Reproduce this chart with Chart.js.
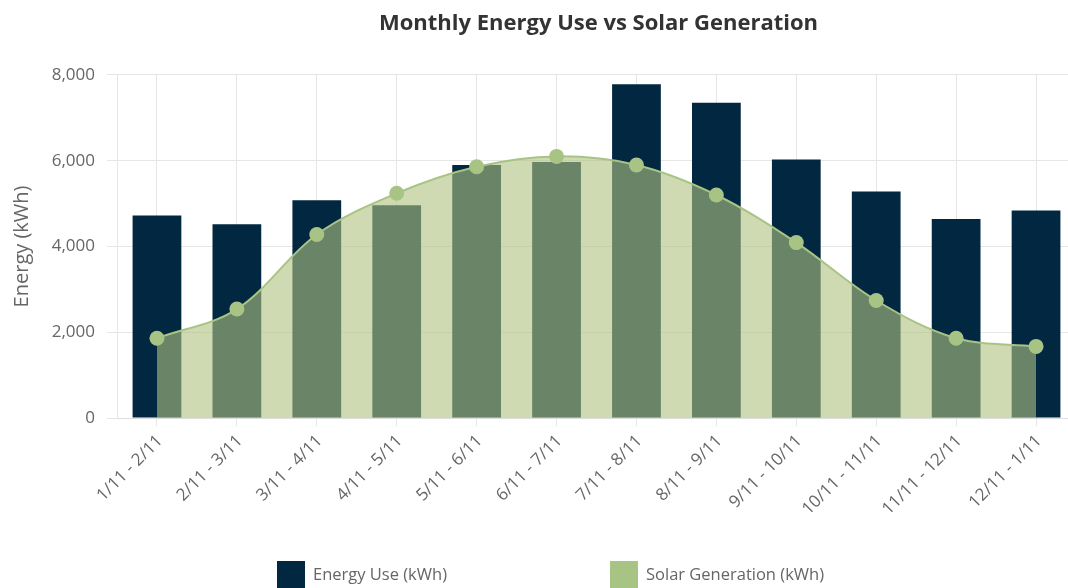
<!DOCTYPE html>
<html><head><meta charset="utf-8">
<script src="https://cdn.jsdelivr.net/npm/chart.js@4.4.0/dist/chart.umd.min.js"></script>
<style>html,body{margin:0;padding:0;overflow:hidden;background:#fff;} canvas{display:block;}</style>
</head><body><canvas id="c" width="1068" height="588" style="width:1068px;height:588px"></canvas>
<script>
const categories = ['1/11 - 2/11','2/11 - 3/11','3/11 - 4/11','4/11 - 5/11','5/11 - 6/11','6/11 - 7/11','7/11 - 8/11','8/11 - 9/11','9/11 - 10/11','10/11 - 11/11','11/11 - 12/11','12/11 - 1/11'];
const energyUse = [4720, 4520, 5080, 4960, 5900, 5970, 7780, 7350, 6030, 5280, 4640, 4840];
const solarGeneration = [1860, 2540, 4280, 5240, 5860, 6100, 5900, 5200, 4090, 2740, 1860, 1670];
const yTickValues = [0, 2000, 4000, 6000, 8000];
const seriesLabels = ['Energy Use (kWh)', 'Solar Generation (kWh)'];

const FONT = "'Open Sans', sans-serif";
const NAVY = '#012840';
const GREEN = '#a8c484';

// The original plot area runs slightly past the right edge of the picture.
const PLOT_RIGHT = 1076;
const extendPlugin = {
  id: 'extendArea',
  afterLayout(chart) {
    const x = chart.scales.x;
    x.right = PLOT_RIGHT; x.width = x.right - x.left;
    x.configure();
    chart.chartArea.right = PLOT_RIGHT;
    chart.chartArea.width = PLOT_RIGHT - chart.chartArea.left;
    const t = chart.titleBlock;
    if (t) { t.left = chart.chartArea.left; t.right = PLOT_RIGHT + 4; t.width = t.right - t.left; }
  }
};

const legendPlugin = {
  id: 'customLegend',
  afterDraw(chart) {
    const ctx = chart.ctx;
    const xs = [277, 610];
    ctx.save();
    ctx.font = '16.5px ' + FONT;
    ctx.textBaseline = 'middle';
    ctx.textAlign = 'left';
    chart.data.datasets.forEach((ds, i) => {
      ctx.fillStyle = ds.legendColor;
      ctx.fillRect(xs[i], 561, 28, 28);
      ctx.fillStyle = '#666666';
      ctx.fillText(ds.label, xs[i] + 36, 575);
    });
    ctx.restore();
  }
};

new Chart(document.getElementById('c'), {
  type: 'bar',
  data: {
    labels: categories,
    datasets: [
      {
        type: 'bar', label: seriesLabels[0], data: energyUse,
        backgroundColor: NAVY, legendColor: NAVY,
        categoryPercentage: 1, barPercentage: 0.61, order: 2
      },
      {
        type: 'line', label: seriesLabels[1], data: solarGeneration,
        borderColor: GREEN, borderWidth: 2, legendColor: GREEN,
        backgroundColor: 'rgba(175,193,128,0.6)', fill: 'origin',
        tension: 0.35, pointRadius: 7.5, pointBackgroundColor: GREEN,
        pointBorderWidth: 0, order: 1, clip: false
      }
    ]
  },
  options: {
    responsive: false, animation: false,
    layout: { padding: 0 },
    plugins: {
      legend: { display: false },
      tooltip: { enabled: false },
      title: {
        display: true, fullSize: false,
        text: 'Monthly Energy Use vs Solar Generation',
        color: '#333333',
        font: { family: FONT, size: 22, weight: 'bold' },
        padding: { top: 11, bottom: 37.5 }
      }
    },
    scales: {
      x: {
        offset: true,
        grid: { offset: false, color: '#e6e6e6', lineWidth: 1, tickLength: 8, drawTicks: true },
        border: { color: '#dddddd' },
        ticks: { color: '#666666', font: { family: FONT, size: 17 }, minRotation: 45, maxRotation: 45, autoSkip: false, padding: 5, labelOffset: 3 },
        afterFit(scale) { scale.height = 170; }
      },
      y: {
        min: 0, max: 8000,
        afterBuildTicks(scale) { scale.ticks = yTickValues.map(v => ({ value: v })); },
        grid: { color: '#e6e6e6', lineWidth: 1, tickLength: 10 },
        border: { color: '#e6e6e6' },
        ticks: {
          color: '#666666', font: { family: FONT, size: 17 }, padding: 12,
          callback: v => v.toLocaleString('en-US')
        },
        title: {
          display: true, text: 'Energy (kWh)', color: '#666666',
          font: { family: FONT, size: 20 }, padding: { top: 10, bottom: 0 }
        },
        afterFit(scale) { scale.width = 117; }
      }
    }
  },
  plugins: [extendPlugin, legendPlugin]
});
</script></body></html>
